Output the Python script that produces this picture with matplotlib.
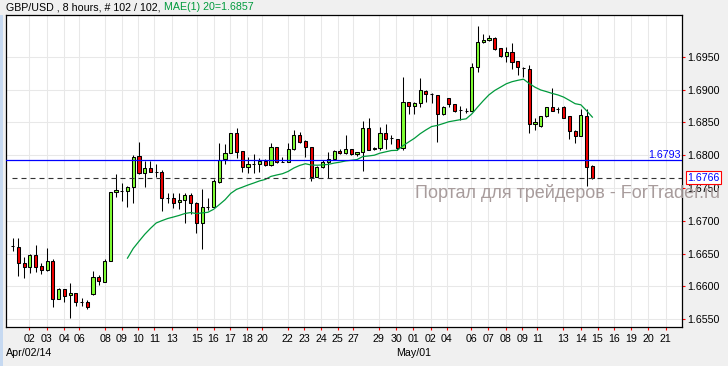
import numpy as np
import matplotlib
matplotlib.use('Agg')
import matplotlib.pyplot as plt
from matplotlib.patches import Rectangle

plt.rcParams['font.family'] = ['Liberation Sans', 'DejaVu Sans']

# ---------------- data (GBP/USD, 8-hour bars) ----------------
opens = [1.66615, 1.66604, 1.66350, 1.66289, 1.66472, 1.66304, 1.66243, 1.66380, 1.65800, 1.65953,
         1.65861, 1.65902, 1.65765, 1.65765, 1.65887, 1.66136, 1.66070, 1.66380, 1.67434, 1.67449,
         1.67449, 1.67510, 1.67989, 1.67724, 1.67800, 1.67749, 1.67749, 1.67342, 1.67352, 1.67281,
         1.67312, 1.67388, 1.67266, 1.66961, 1.67215, 1.67215, 1.67597, 1.67938, 1.68029, 1.68335,
         1.68060, 1.67826, 1.67862, 1.67861, 1.67912, 1.67846, 1.68121, 1.67902, 1.67897, 1.68090,
         1.68304, 1.68218, 1.68121, 1.67663, 1.67821, 1.67892, 1.67943, 1.68065, 1.68029, 1.68090,
         1.68014, 1.68045, 1.68411, 1.68090, 1.68106, 1.68335, 1.68258, 1.68243, 1.68106, 1.68808,
         1.68752, 1.68793, 1.68981, 1.68930, 1.68920, 1.68625, 1.68869, 1.68783, 1.68691, 1.68681,
         1.68681, 1.69342, 1.69724, 1.69760, 1.69785, 1.69632, 1.69520, 1.69571, 1.69439, 1.69327,
         1.69312, 1.68472, 1.68452, 1.68594, 1.68732, 1.68701, 1.68732, 1.68594, 1.68370, 1.68299,
         1.68599, 1.67836]
highs = [1.66732, 1.66732, 1.66442, 1.66487, 1.66630, 1.66350, 1.66579, 1.66416, 1.65968, 1.65953,
         1.66055, 1.65902, 1.65816, 1.65790, 1.66233, 1.66172, 1.66416, 1.67434, 1.67709, 1.67571,
         1.67531, 1.68004, 1.68198, 1.67917, 1.67912, 1.67861, 1.67775, 1.67429, 1.67419, 1.67429,
         1.67429, 1.67419, 1.67291, 1.67480, 1.67342, 1.67632, 1.68182, 1.68172, 1.68345, 1.68411,
         1.68060, 1.67978, 1.68019, 1.67953, 1.67938, 1.68182, 1.68121, 1.67978, 1.68182, 1.68386,
         1.68360, 1.68233, 1.68121, 1.67836, 1.67928, 1.68055, 1.68080, 1.68090, 1.68309, 1.68090,
         1.68055, 1.68528, 1.68564, 1.68121, 1.68436, 1.68477, 1.68309, 1.68243, 1.69196, 1.68808,
         1.68818, 1.69174, 1.68996, 1.68945, 1.68920, 1.68752, 1.68879, 1.68783, 1.68752, 1.68716,
         1.69414, 1.69973, 1.69851, 1.69836, 1.69800, 1.69632, 1.69658, 1.69719, 1.69439, 1.69352,
         1.69378, 1.68574, 1.68604, 1.68732, 1.69022, 1.68732, 1.68757, 1.68604, 1.68386, 1.68701,
         1.68701, 1.67851]
lows = [1.66543, 1.66162, 1.66121, 1.66197, 1.66213, 1.66182, 1.66238, 1.65678, 1.65800, 1.65765,
        1.65520, 1.65699, 1.65699, 1.65653, 1.65861, 1.66019, 1.66060, 1.66380, 1.67368, 1.67307,
        1.67215, 1.67276, 1.67710, 1.67520, 1.67739, 1.67673, 1.67154, 1.67266, 1.67190, 1.67180,
        1.66961, 1.67103, 1.66818, 1.66569, 1.67164, 1.67205, 1.67571, 1.67866, 1.68029, 1.67953,
        1.67749, 1.67734, 1.67724, 1.67749, 1.67836, 1.67836, 1.67877, 1.67892, 1.67892, 1.68080,
        1.68182, 1.67978, 1.67612, 1.67663, 1.67800, 1.67648, 1.67928, 1.68019, 1.68014, 1.68004,
        1.67994, 1.67765, 1.68080, 1.68080, 1.68080, 1.68090, 1.68172, 1.68080, 1.68080, 1.68625,
        1.68625, 1.68742, 1.68818, 1.68793, 1.68207, 1.68615, 1.68742, 1.68665, 1.68538, 1.68650,
        1.68670, 1.69276, 1.69709, 1.69749, 1.69607, 1.69505, 1.69429, 1.69312, 1.69225, 1.69200,
        1.68335, 1.68386, 1.68436, 1.68589, 1.68681, 1.68640, 1.68564, 1.68243, 1.68182, 1.68289,
        1.67536, 1.67632]
closes = [1.66615, 1.66350, 1.66289, 1.66472, 1.66299, 1.66248, 1.66380, 1.65800, 1.65953, 1.65856,
          1.65902, 1.65765, 1.65765, 1.65678, 1.66136, 1.66075, 1.66380, 1.67434, 1.67464, 1.67449,
          1.67510, 1.67978, 1.67724, 1.67800, 1.67749, 1.67749, 1.67342, 1.67342, 1.67276, 1.67312,
          1.67388, 1.67266, 1.66961, 1.67215, 1.67215, 1.67607, 1.67928, 1.68029, 1.68345, 1.68055,
          1.67826, 1.67867, 1.67862, 1.67912, 1.67846, 1.68121, 1.67902, 1.67902, 1.68090, 1.68304,
          1.68207, 1.68121, 1.67663, 1.67821, 1.67892, 1.67943, 1.68065, 1.68029, 1.68090, 1.68014,
          1.68045, 1.68411, 1.68080, 1.68106, 1.68335, 1.68243, 1.68258, 1.68106, 1.68808, 1.68752,
          1.68793, 1.68991, 1.68935, 1.68930, 1.68625, 1.68742, 1.68783, 1.68676, 1.68691, 1.68681,
          1.69342, 1.69724, 1.69760, 1.69785, 1.69617, 1.69520, 1.69571, 1.69429, 1.69342, 1.69327,
          1.68472, 1.68503, 1.68594, 1.68732, 1.68681, 1.68701, 1.68574, 1.68370, 1.68299, 1.68610,
          1.67816, 1.67660]

tick_pos = [2.9, 5.9, 9.0, 11.6, 16.1, 19.0, 21.9, 24.7, 27.7, 32.1, 35.0, 37.9, 40.8, 43.5,
            47.9, 50.8, 53.8, 56.6, 59.3, 63.8, 66.8, 69.8, 72.8, 75.6, 79.9, 82.9, 85.9, 88.8,
            91.4, 95.9, 99.0, 101.9, 104.8, 107.7, 110.75, 113.8]
tick_lab = ['02', '03', '04', '06', '08', '09', '10', '11', '13', '15', '16', '17', '18', '20',
            '22', '23', '24', '25', '27', '29', '30', '01', '02', '04', '06', '07', '08', '09',
            '11', '13', '14', '15', '16', '19', '20', '21']
month_labels = [(2.9, 'Apr/02/14'), (69.8, 'May/01')]
y_ticks = [1.6550, 1.6600, 1.6650, 1.6700, 1.6750, 1.6800, 1.6850, 1.6900, 1.6950]
ref_level = 1.6793
ma_period = 20
title_main = 'GBP/USD , 8 hours, # 102 / 102,'
title_ma = ' MAE(1) 20=1.6857'
watermark = 'Портал для трейдеров - ForTrader.ru'

# ---------------- styling ----------------
BG = '#F0F0F0'
UP = '#80FF33'
DN = '#F00000'
MAC = '#009A3C'
FS = 7.7

W, H = 728, 366
fig = plt.figure(figsize=(W / 100, H / 100), dpi=100, facecolor=BG)
ax = fig.add_axes([6 / W, 1 - 327 / H, 676 / W, 312 / H])
ax.set_facecolor('white')

fig.patches.append(Rectangle((0, 0), 2.5 / W, 1 - 15 / H, transform=fig.transFigure,
                             facecolor='#C6D9F1', edgecolor='none'))

o = np.array(opens); h = np.array(highs); l = np.array(lows); c = np.array(closes)
n = len(c)
x = np.arange(n)

ax.set_xlim(-1.167, 116.62)
ax.set_ylim(1.65378, 1.70141)

# grid
for tp in tick_pos:
    ax.axvline(tp, color='#E8E8E8', lw=0.75, zorder=0)
for yt in y_ticks:
    ax.axhline(yt, color='#E8E8E8', lw=0.75, zorder=0)

# candles
cols = np.where(c > o, UP, np.where(c < o, DN, 'black'))
ax.vlines(x, l, h, color='black', lw=0.75, zorder=3)
ax.bar(x, np.abs(c - o), bottom=np.minimum(o, c), width=0.55, color=cols,
       edgecolor='black', linewidth=0.75, zorder=4)

# exponential moving average
alpha = 2.0 / (ma_period + 1)
ema = np.full(n, np.nan)
ema[ma_period - 1] = c[:ma_period].mean()
for i in range(ma_period, n):
    ema[i] = ema[i - 1] + alpha * (c[i] - ema[i - 1])
ax.plot(x[ma_period:], ema[ma_period:], color=MAC, lw=0.9, zorder=5)

# reference level & last price
ax.axhline(ref_level, color='#0000FF', lw=0.9, zorder=6)
ax.annotate(f'{ref_level:.4f}', xy=(1, ref_level), xycoords=('axes fraction', 'data'),
            xytext=(-1, 1), textcoords='offset points', ha='right', va='baseline',
            color='#0000FF', fontsize=FS, zorder=7)
last = c[-1]
ax.hlines(last, x[0] - 0.2, 116.62, colors='#333333', lw=0.8, linestyles=(0, (4.5, 3.6)), zorder=6)
ax.annotate(f'{last:.4f}', xy=(1, last), xycoords=('axes fraction', 'data'),
            xytext=(4.0, 0), textcoords='offset points', ha='left', va='center',
            color='#0000FF', fontsize=FS, zorder=10, annotation_clip=False,
            bbox=dict(boxstyle='square,pad=0.12', fc='white', ec='red', lw=0.8))

# axes
for s in ax.spines.values():
    s.set_color('black'); s.set_linewidth(0.9)
ax.yaxis.tick_right()
ax.set_yticks(y_ticks)
ax.set_yticklabels([f'{v:.4f}' for v in y_ticks])
ax.set_xticks(tick_pos)
ax.set_xticklabels(tick_lab)
ax.tick_params(axis='y', direction='out', length=2.5, width=0.8, color='red',
               labelsize=FS, pad=1, labelcolor='black')
ax.tick_params(axis='x', direction='out', length=2.5, width=0.8, color='red',
               labelsize=FS, pad=2.5, labelcolor='black')
for xp, lab in month_labels:
    ax.annotate(lab, xy=(xp, 0), xycoords=('data', 'axes fraction'), xytext=(0, -18.7),
                textcoords='offset points', ha='center', va='center', fontsize=FS,
                annotation_clip=False)

# title
t1 = fig.text(6.5 / W, 1 - 7.5 / H, title_main, ha='left', va='center', fontsize=FS, color='black')
fig.canvas.draw()
ax.annotate(title_ma, xy=(1, 0), xycoords=t1, ha='left', va='bottom', fontsize=FS, color=MAC,
            annotation_clip=False)

# watermark
fig.text(720 / W, 1 - 193 / H, watermark, ha='right', va='center', fontsize=13,
         color='#A89C9C', zorder=1)

fig.savefig('out.png', dpi=100, facecolor=BG)
